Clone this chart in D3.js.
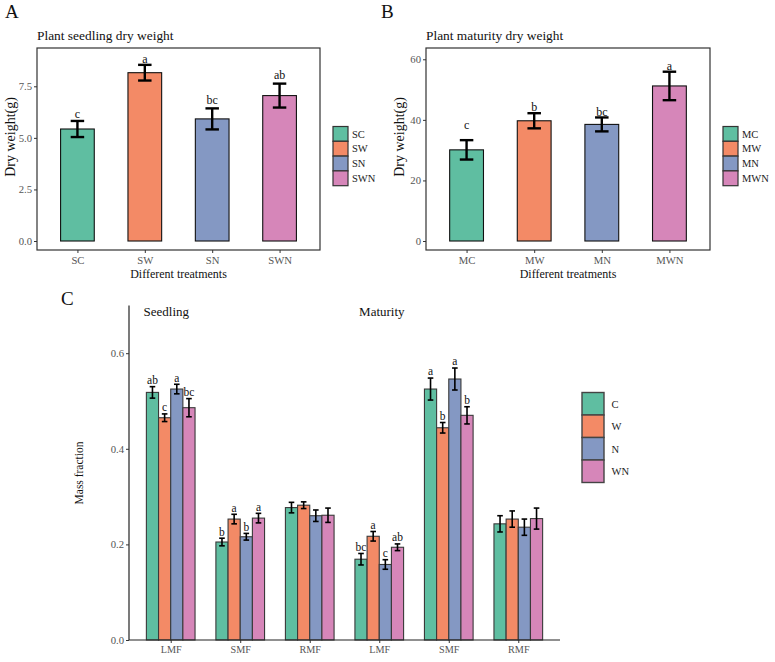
<!DOCTYPE html>
<html>
<head>
<meta charset="utf-8">
<script src="https://cdn.jsdelivr.net/npm/d3@7"></script>
<style>
  body { margin: 0; background: #fff; }
  svg { display: block; }
  text { font-family: "Liberation Serif", "Times New Roman", serif; }
</style>
</head>
<body>
<div id="chart"></div>
<script>
// ---- data ----
const seedTreat = ['SC', 'SW', 'SN', 'SWN']
const seedMean = [5.43, 8.16, 5.92, 7.05]
const seedSE = [0.39, 0.38, 0.51, 0.58]
const seedLetters = ['c', 'a', 'bc', 'ab']
const seedLetterY = [6.16, 8.81, 6.83, 8.05]

const matTreat = ['MC', 'MW', 'MN', 'MWN']
const matMean = [30.1, 39.7, 38.5, 51.2]
const matSE = [3.2, 2.5, 2.3, 4.7]
const matLetters = ['c', 'b', 'bc', 'a']
const matLetterY = [38.3, 44.1, 42.7, 57.9]

const fracStage = ['Seedling', 'Seedling', 'Seedling', 'Maturity', 'Maturity', 'Maturity']
const fracOrgan = ['LMF', 'SMF', 'RMF', 'LMF', 'SMF', 'RMF']
const fracTreat = ['C', 'W', 'N', 'WN']
const fracC = [0.518, 0.205, 0.277, 0.169, 0.525, 0.243]
const fracW = [0.465, 0.253, 0.282, 0.217, 0.444, 0.253]
const fracN = [0.525, 0.216, 0.260, 0.158, 0.546, 0.236]
const fracWN = [0.486, 0.255, 0.261, 0.194, 0.470, 0.254]
const seC = [0.012, 0.008, 0.011, 0.012, 0.023, 0.017]
const seW = [0.008, 0.010, 0.007, 0.010, 0.011, 0.017]
const seN = [0.010, 0.007, 0.012, 0.010, 0.023, 0.017]
const seWN = [0.019, 0.010, 0.015, 0.007, 0.018, 0.022]
const letC = ['ab', 'b', '', 'bc', 'a', '']
const letW = ['c', 'a', '', 'a', 'b', '']
const letN = ['a', 'b', '', 'c', 'a', '']
const letWN = ['bc', 'a', '', 'ab', 'b', '']
// stage annotations: first organ index of each stage, and left edge in category units
const stageIdx = [0, 3]
const stageX = [-0.39, 2.71]

const colors = ['#5fbea1', '#f38a66', '#8498c3', '#d686b9']
const tickGrey = '#555'

const svg = d3.select('#chart').append('svg').attr('width', 775).attr('height', 662)

function styleAxis(g, size) {
  g.attr('font-family', null)
  g.select('.domain').remove()
  g.selectAll('.tick line').attr('stroke', '#333').attr('stroke-width', 1)
  g.selectAll('.tick text').attr('fill', tickGrey).style('font-size', size + 'px')
}

// A and B panels: simple bar + error bar with letters
function drawWeight(opt) {
  const { left, right, top, bottom } = opt
  const g = svg.append('g')
  const x = d3.scalePoint().domain(opt.treat).range([left, right]).padding(0.6)
  const bw = x.step() * 0.5
  const cap = x.step() * 0.2
  const y = d3.scaleLinear().domain(opt.yDomain).range([bottom, top])
  const rows = opt.treat.map((t, i) => ({ t, i, m: opt.mean[i], se: opt.se[i], lab: opt.letters[i], ly: opt.letterY[i] }))

  g.selectAll('rect.bar')
    .data(rows)
    .join('rect')
    .attr('x', (d) => x(d.t) - bw / 2)
    .attr('width', bw)
    .attr('y', (d) => y(d.m))
    .attr('height', (d) => y(0) - y(d.m))
    .attr('fill', (d) => colors[d.i])
    .attr('stroke', '#111')
    .attr('stroke-width', 1.1)

  const eb = g.append('g').attr('stroke', '#000').attr('stroke-width', 2.4).attr('fill', 'none')
  rows.forEach((d) => {
    const cx = x(d.t)
    eb.append('line').attr('x1', cx).attr('x2', cx).attr('y1', y(d.m + d.se)).attr('y2', y(d.m - d.se))
    eb.append('line').attr('x1', cx - cap / 2).attr('x2', cx + cap / 2).attr('y1', y(d.m + d.se)).attr('y2', y(d.m + d.se))
    eb.append('line').attr('x1', cx - cap / 2).attr('x2', cx + cap / 2).attr('y1', y(d.m - d.se)).attr('y2', y(d.m - d.se))
  })

  g.selectAll('text.lab')
    .data(rows)
    .join('text')
    .attr('x', (d) => x(d.t))
    .attr('y', (d) => y(d.ly) + 4)
    .attr('text-anchor', 'middle')
    .style('font-size', '12px')
    .attr('fill', '#111')
    .text((d) => d.lab)

  g.append('rect')
    .attr('x', left).attr('y', top)
    .attr('width', right - left).attr('height', bottom - top)
    .attr('fill', 'none').attr('stroke', '#333').attr('stroke-width', 1.2)

  g.append('g')
    .attr('transform', `translate(${left},0)`)
    .call(d3.axisLeft(y).tickValues(opt.ticks).tickFormat(opt.fmt).tickSize(3).tickPadding(2))
    .call((a) => styleAxis(a, 10.7))

  g.append('g')
    .attr('transform', `translate(0,${bottom})`)
    .call(d3.axisBottom(x).tickSize(3).tickPadding(3))
    .call((a) => styleAxis(a, 10.7))

  // titles
  g.append('text').attr('x', opt.panelX).attr('y', 18).style('font-size', '19px').attr('fill', '#111').text(opt.panel)
  g.append('text').attr('x', left).attr('y', 40).style('font-size', '13.4px').attr('fill', '#111').text(opt.title)
  g.append('text')
    .attr('x', (left + right) / 2).attr('y', 278)
    .attr('text-anchor', 'middle').style('font-size', '12px').attr('fill', '#111')
    .text('Different treatments')
  g.append('text')
    .attr('transform', `translate(${left - 27},137) rotate(-90)`)
    .attr('text-anchor', 'middle').attr('dy', '0.35em').style('font-size', '14px').attr('fill', '#111')
    .text('Dry weight(g)')

  // legend
  const lg = g.append('g').attr('transform', `translate(${right + 13},126.5)`)
  rows.forEach((d, k) => {
    lg.append('rect').attr('x', 0).attr('y', k * 14.8).attr('width', 15).attr('height', 14.8)
      .attr('fill', colors[d.i]).attr('stroke', '#333').attr('stroke-width', 1.2)
    lg.append('text').attr('x', 19).attr('y', k * 14.8 + 7.4).attr('dy', '0.35em')
      .style('font-size', '10.5px').attr('fill', '#222').text(d.t)
  })
}

drawWeight({
  panel: 'A', panelX: 5, title: 'Plant seedling dry weight',
  left: 37, right: 320, top: 48, bottom: 250,
  treat: seedTreat, mean: seedMean, se: seedSE, letters: seedLetters, letterY: seedLetterY,
  yDomain: [-0.436, 9.357], ticks: [0, 2.5, 5, 7.5], fmt: d3.format('.1f'),
})

drawWeight({
  panel: 'B', panelX: 381, title: 'Plant maturity dry weight',
  left: 426, right: 710, top: 48, bottom: 250,
  treat: matTreat, mean: matMean, se: matSE, letters: matLetters, letterY: matLetterY,
  yDomain: [-2.97, 63.73], ticks: [0, 20, 40, 60], fmt: d3.format('d'),
})

// ---- C panel: mass fractions ----
const cLeft = 129, cRight = 560, cTop = 305.4, cBottom = 640
const groups = fracOrgan.map((o, i) => i)
const xC = d3.scalePoint().domain(groups).range([cLeft, cRight]).padding(0.6)
const inner = d3.scaleBand().domain(fracTreat).range([-xC.step() * 0.35, xC.step() * 0.35])
const yC = d3.scaleLinear().domain([0, 0.7]).range([cBottom, cTop])
const fracMeans = [fracC, fracW, fracN, fracWN]
const fracSEs = [seC, seW, seN, seWN]
const fracLets = [letC, letW, letN, letWN]

const cells = []
groups.forEach((gi) => {
  fracTreat.forEach((t, ti) => {
    cells.push({ gi, t, ti, m: fracMeans[ti][gi], se: fracSEs[ti][gi], lab: fracLets[ti][gi] })
  })
})

const gc = svg.append('g')
gc.selectAll('rect.cbar')
  .data(cells)
  .join('rect')
  .attr('x', (d) => xC(d.gi) + inner(d.t))
  .attr('width', inner.bandwidth())
  .attr('y', (d) => yC(d.m))
  .attr('height', (d) => yC(0) - yC(d.m))
  .attr('fill', (d) => colors[d.ti])
  .attr('stroke', '#3a3a3a')
  .attr('stroke-width', 1.1)

const ebC = gc.append('g').attr('stroke', '#000').attr('stroke-width', 1.6)
cells.forEach((d) => {
  const cx = xC(d.gi) + inner(d.t) + inner.bandwidth() / 2
  const c = 2.8
  ebC.append('line').attr('x1', cx).attr('x2', cx).attr('y1', yC(d.m + d.se)).attr('y2', yC(d.m - d.se))
  ebC.append('line').attr('x1', cx - c).attr('x2', cx + c).attr('y1', yC(d.m + d.se)).attr('y2', yC(d.m + d.se))
  ebC.append('line').attr('x1', cx - c).attr('x2', cx + c).attr('y1', yC(d.m - d.se)).attr('y2', yC(d.m - d.se))
})

gc.selectAll('text.clab')
  .data(cells.filter((d) => d.lab))
  .join('text')
  .attr('x', (d) => xC(d.gi) + inner(d.t) + inner.bandwidth() / 2)
  .attr('y', (d) => yC(d.m + d.se) - 2.6)
  .attr('text-anchor', 'middle')
  .style('font-size', '11.5px')
  .attr('fill', '#111')
  .text((d) => d.lab)

// axes lines
gc.append('line').attr('x1', cLeft).attr('x2', cLeft).attr('y1', cTop).attr('y2', cBottom).attr('stroke', '#222').attr('stroke-width', 1.2)
gc.append('line').attr('x1', cLeft).attr('x2', cRight).attr('y1', cBottom).attr('y2', cBottom).attr('stroke', '#222').attr('stroke-width', 1.2)

gc.append('g')
  .attr('transform', `translate(${cLeft},0)`)
  .call(d3.axisLeft(yC).tickValues([0, 0.2, 0.4, 0.6]).tickFormat(d3.format('.1f')).tickSize(3).tickPadding(2))
  .call((a) => styleAxis(a, 10.7))

gc.append('g')
  .attr('transform', `translate(0,${cBottom})`)
  .call(d3.axisBottom(xC).tickFormat((i) => fracOrgan[i]).tickSize(3).tickPadding(3))
  .call((a) => styleAxis(a, 10.2))

gc.append('text').attr('x', 61).attr('y', 305).style('font-size', '19px').attr('fill', '#111').text('C')
gc.append('text')
  .attr('transform', `translate(79,473) rotate(-90)`)
  .attr('text-anchor', 'middle').attr('dy', '0.35em').style('font-size', '11.5px').attr('fill', '#111')
  .text('Mass fraction')

// stage labels
gc.selectAll('text.stage')
  .data(stageIdx)
  .join('text')
  .attr('x', (i, k) => xC(0) + stageX[k] * xC.step())
  .attr('y', yC(0.677))
  .style('font-size', '13px')
  .attr('fill', '#111')
  .text((i) => fracStage[i])

// legend C
const lgC = gc.append('g').attr('transform', 'translate(582,392.5)')
fracTreat.forEach((t, k) => {
  lgC.append('rect').attr('x', 0).attr('y', k * 22.5).attr('width', 22).attr('height', 22.5)
    .attr('fill', colors[k]).attr('stroke', '#444').attr('stroke-width', 1.4)
  lgC.append('text').attr('x', 29.5).attr('y', k * 22.5 + 11.5).attr('dy', '0.35em')
    .style('font-size', '10.5px').attr('fill', '#222').text(t)
})
</script>
</body>
</html>
